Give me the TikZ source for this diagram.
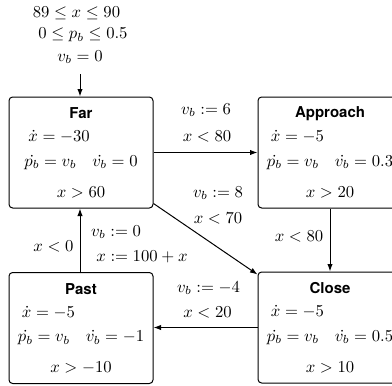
\documentclass[tikz,border=0pt]{standalone}
\usepackage[no-math]{fontspec}
\newfontfamily\hv{TeX Gyre Heros}
\usetikzlibrary{arrows.meta,calc}
\newcommand\mystate[6]{%
  \node[state] (#1) at (#2) {};
  \node[ttl] (#1-t) at ($(#1.center)+(0,-39)$) {#3};
  \node[txt] (#1-p) at ($(#1.center)+(0,10)$) {$\dot{p_b}=v_b\hskip 9.5pt \dot{v_b}=#5$};
  \node[txt,anchor=west] (#1-x) at ($(#1-p.west)+(4,-25.5)$) {$\dot{x}=#4$};
  \node[txt] (#1-g) at ($(#1.center)+(0,40)$) {$x>#6$};
}
\begin{document}
\begin{tikzpicture}[x=0.6pt,y=-0.6pt,
  state/.style={draw, rounded corners=2.2pt, line width=0.6pt, minimum width=86.4pt, minimum height=66.6pt, inner sep=0pt},
  ttl/.style={font=\hv\bfseries\fontsize{9}{10}\selectfont, inner sep=0pt},
  txt/.style={inner sep=0pt},
  lbl/.style={inner sep=0pt},
  arr/.style={-{Latex[length=4.5pt,width=3.2pt]}, line width=0.6pt}]
\useasboundingbox (0,0) rectangle (392,385);
\mystate{far}{81,152.5}{Far}{-30}{0}{60}
\mystate{app}{330,152.5}{Approach}{-5}{0.3}{20}
\mystate{past}{81,328}{Past}{-5}{-1}{-10}
\mystate{close}{330,327.5}{Close}{-5}{0.5}{10}
% initial
\node[lbl] (i1) at (76.5,13) {$89\leq x\leq 90$};
\node[lbl] (i2) at (83,35) {$0\leq p_b\leq 0.5$};
\node[lbl] (i3) at (80,57) {$v_b=0$};
\coordinate (st) at (80,74);
\draw[arr] (st) -- (st |- far.north);
% far -> approach
\draw[arr] (far.east) -- (app.west);
\node[lbl] (l1a) at (206,110) {$v_b:=6$};
\node[lbl] (l1b) at (207,136) {$x<80$};
% far -> close
\draw[arr] ([yshift=3pt]far.south east) -- ([yshift=-1.8pt]close.north west);
\node[lbl] (l2a) at (218,193) {$v_b:=8$};
\node[lbl] (l2b) at (218,218) {$x<70$};
% approach -> close
\draw[arr] (app.south) -- (close.north);
\node[lbl] (l3) at (299,236) {$x<80$};
% close -> past
\draw[arr] (close.west) -- (close.west -| past.east);
\node[lbl] (l4a) at (208.5,288) {$v_b:=-4$};
\node[lbl] (l4b) at (207.5,312) {$x<20$};
% past -> far
\coordinate (pf) at (80,273);
\draw[arr] (pf) -- (pf |- far.south);
\node[lbl] (l5a) at (53.5,246) {$x<0$};
\node[lbl] (l5b) at (116,232) {$v_b:=0$};
\node[lbl] (l5c) at (142,257) {$x:=100+x$};
\end{tikzpicture}
\end{document}
